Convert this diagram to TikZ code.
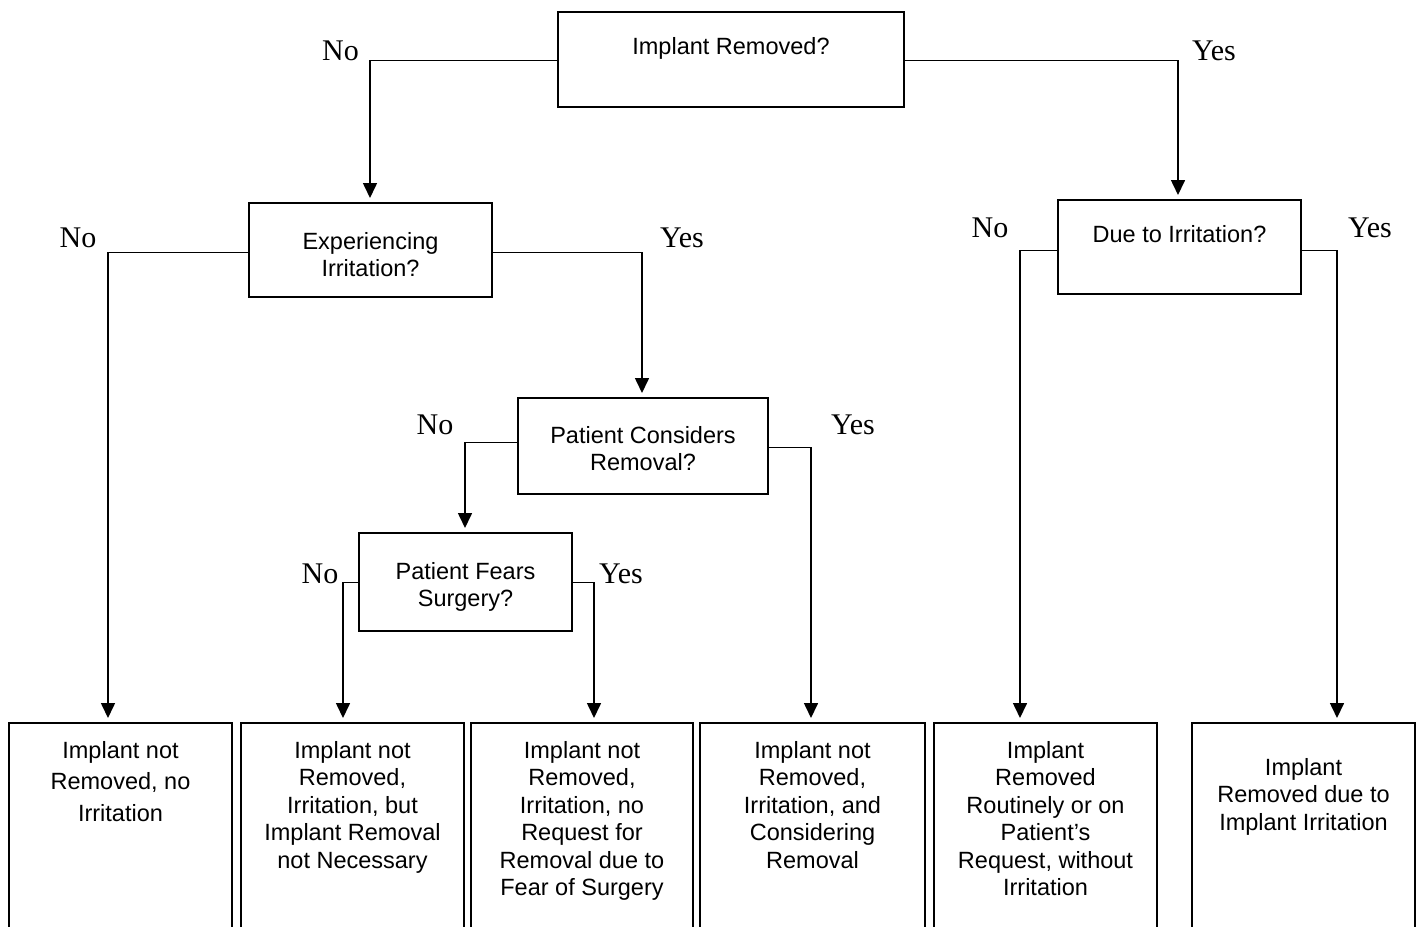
\documentclass[tikz,border=0pt]{standalone}
\usepackage{fontspec}
\setmainfont{Liberation Sans}
\newfontfamily\labfont{Liberation Serif}
\usetikzlibrary{arrows.meta}
\begin{document}
\begin{tikzpicture}[x=1pt,y=-1pt,
  qbox/.style={draw=black, line width=2pt, inner sep=0pt, outer sep=0pt},
  txt/.style={font=\fontsize{23.5}{27.5}\selectfont, align=center, inner sep=0pt, anchor=north},
  yn/.style={font=\labfont\fontsize{30}{30}\selectfont, inner sep=0pt, anchor=base},
  conn/.style={line width=1pt},
  arr/.style={line width=1.6pt, -{Triangle[length=15pt,width=14pt]}, shorten >=5pt}]
\useasboundingbox (0,0) rectangle (1423,926);
\fill[white] (0,0) rectangle (1423,926);

% question boxes
\node[qbox, minimum width=346pt, minimum height=95pt] (q1) at (731,59.5) {};
\node[qbox, minimum width=243pt, minimum height=94pt] (q2) at (370.5,250) {};
\node[qbox, minimum width=243pt, minimum height=94pt] (q3) at (1179.5,247) {};
\node[qbox, minimum width=250pt, minimum height=96pt] (q4) at (643,446) {};
\node[qbox, minimum width=213pt, minimum height=98pt] (q5) at (465.5,582) {};

\node[txt] (t1) at (731,37) {Implant Removed?};
\node[txt] (t2) at (370.5,232) {Experiencing\\Irritation?};
\node[txt] (t3) at (1179.5,225) {Due to Irritation?};
\node[txt] (t4) at (643,426) {Patient Considers\\Removal?};
\node[txt] (t5) at (465.5,562) {Patient Fears\\Surgery?};

% result boxes
\node[qbox, minimum width=223pt, minimum height=227pt] (r1) at (120.5,836.5) {};
\node[qbox, minimum width=223pt, minimum height=227pt] (r2) at (352.5,836.5) {};
\node[qbox, minimum width=222pt, minimum height=227pt] (r3) at (582,836.5) {};
\node[qbox, minimum width=225pt, minimum height=227pt] (r4) at (812.5,836.5) {};
\node[qbox, minimum width=223pt, minimum height=227pt] (r5) at (1045.5,836.5) {};
\node[qbox, minimum width=223pt, minimum height=227pt] (r6) at (1303.5,836.5) {};

\node[txt, font=\fontsize{23.5}{31.5}\selectfont] (s1) at (120.5,741) {Implant not\\Removed, no\\Irritation};
\node[txt] (s2) at (352.5,741) {Implant not\\Removed,\\Irritation, but\\Implant Removal\\not Necessary};
\node[txt] (s3) at (582,741) {Implant not\\Removed,\\Irritation, no\\Request for\\Removal due to\\Fear of Surgery};
\node[txt] (s4) at (812.5,741) {Implant not\\Removed,\\Irritation, and\\Considering\\Removal};
\node[txt] (s5) at (1045.5,741) {Implant\\Removed\\Routinely or on\\Patient’s\\Request, without\\Irritation};
\node[txt] (s6) at (1303.5,758) {Implant\\Removed due to\\Implant Irritation};

% branch corners
\coordinate (n1) at (370,60);
\coordinate (y1) at (1178,60);
\coordinate (n2) at (108,252);
\coordinate (y2) at (642,252);
\coordinate (n3) at (1020,250);
\coordinate (y3) at (1337,250);
\coordinate (n4) at (465,442);
\coordinate (y4) at (811,447);
\coordinate (n5) at (343,582);
\coordinate (y5) at (594,582);

\draw[conn] (q1.west |- n1) -- (n1);
\draw[arr] (n1) -- (n1 |- q2.north);
\draw[conn] (q1.east |- y1) -- (y1);
\draw[arr] (y1) -- (y1 |- q3.north);

\draw[conn] (q2.west |- n2) -- (n2);
\draw[arr] (n2) -- (n2 |- r1.north);
\draw[conn] (q2.east |- y2) -- (y2);
\draw[arr] (y2) -- (y2 |- q4.north);

\draw[conn] (q3.west |- n3) -- (n3);
\draw[arr] (n3) -- (n3 |- r5.north);
\draw[conn] (q3.east |- y3) -- (y3);
\draw[arr] (y3) -- (y3 |- r6.north);

\draw[conn] (q4.west |- n4) -- (n4);
\draw[arr] (n4) -- (n4 |- q5.north);
\draw[conn] (q4.east |- y4) -- (y4);
\draw[arr] (y4) -- (y4 |- r4.north);

\draw[conn] (q5.west |- n5) -- (n5);
\draw[arr] (n5) -- (n5 |- r2.north);
\draw[conn] (q5.east |- y5) -- (y5);
\draw[arr] (y5) -- (y5 |- r3.north);

% labels
\node[yn] (l1) at (340.5,60) {No};
\node[yn] (l2) at (1214,60) {Yes};
\node[yn] (l3) at (78,247) {No};
\node[yn] (l4) at (682,247) {Yes};
\node[yn] (l5) at (990,237) {No};
\node[yn] (l6) at (1370,237) {Yes};
\node[yn] (l7) at (435,434) {No};
\node[yn] (l8) at (853,434) {Yes};
\node[yn] (l9) at (320,583) {No};
\node[yn] (l10) at (621,583) {Yes};
\end{tikzpicture}
\end{document}
